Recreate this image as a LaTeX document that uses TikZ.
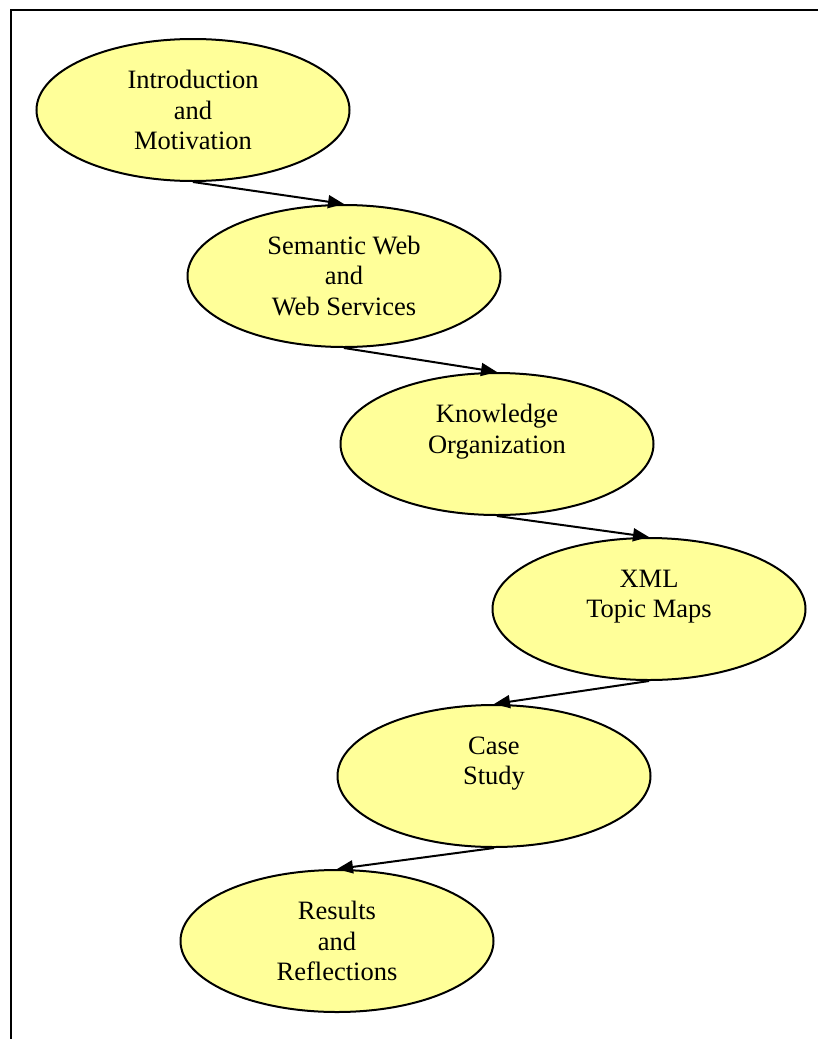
\documentclass[tikz,border=0pt]{standalone}
\usepackage{fontspec}
\setmainfont{Liberation Serif}
\usetikzlibrary{shapes.geometric,arrows.meta}
\definecolor{chapterfill}{RGB}{255,255,153}
\begin{document}
\begin{tikzpicture}[x=1pt,y=-1pt,
  chapter/.style={ellipse,draw=black,line width=2pt,fill=chapterfill,
    minimum width=313pt,minimum height=142pt,inner sep=0pt,align=center,
    font=\fontsize{26.5}{30.5}\selectfont},
  flow/.style={line width=2pt,-{Triangle[length=16pt,width=13pt]}}]
\useasboundingbox (0,0) rectangle (818,1039);
% frame
\draw[line width=2.2pt] (11,1045) -- (11,10) -- (825,10);
% chapters
\node[chapter] (intro) at (193,110) {Introduction\\and\\Motivation};
\node[chapter] (sem)   at (344,276) {Semantic Web\\and\\Web Services};
\node[chapter] (know)  at (497,444) {Knowledge\\Organization\\~};
\node[chapter] (xml)   at (649,609) {XML\\Topic Maps\\~};
\node[chapter] (case)  at (494,776) {Case\\Study\\~};
\node[chapter] (res)   at (337,941) {Results\\and\\Reflections};
% reading order
\draw[flow] (intro.south) -- (sem.north);
\draw[flow] (sem.south) -- (know.north);
\draw[flow] (know.south) -- (xml.north);
\draw[flow] (xml.south) -- (case.north);
\draw[flow] (case.south) -- (res.north);
\end{tikzpicture}
\end{document}
